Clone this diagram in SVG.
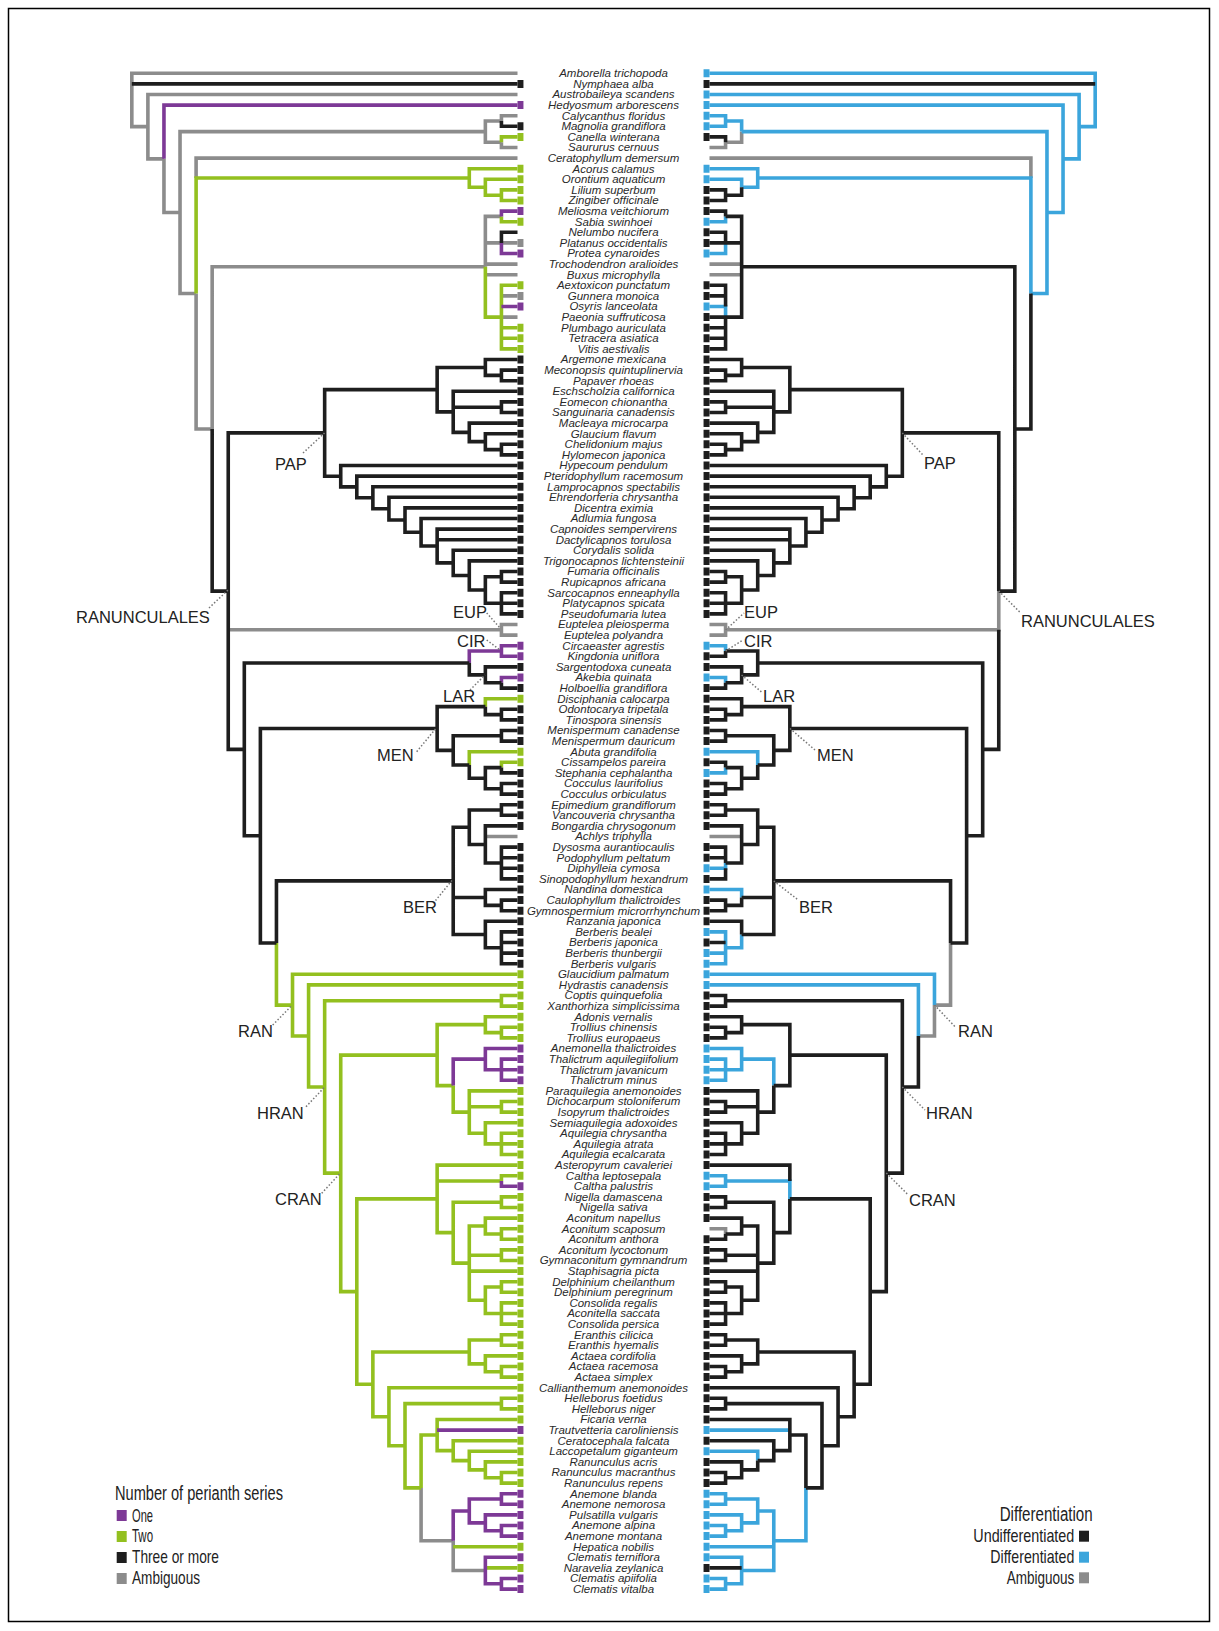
<svg xmlns="http://www.w3.org/2000/svg" width="1219" height="1631" viewBox="0 0 1219 1631">
<style>
.t path{fill:none;stroke-width:3.6;vector-effect:non-scaling-stroke;stroke-linejoin:miter;stroke-linecap:butt}
.t path.sq{stroke-width:8}
.gy{stroke:#8c8c8c}.bk{stroke:#1e1e1e}.gn{stroke:#93c01f}.pu{stroke:#7d3996}.bl{stroke:#3ba5dc}
.lab text{font-family:"Liberation Sans",Arial,sans-serif;font-style:italic;font-size:11.5px;fill:#2a2a2a;text-anchor:middle}
.cl text{font-family:"Liberation Sans",Arial,sans-serif;font-size:16.5px;fill:#222}
.ld{stroke:#777;stroke-width:1.5;stroke-dasharray:1.5 2;fill:none}
.lg{font-family:"Liberation Sans",Arial,sans-serif;fill:#222}
</style>
<rect x="0" y="0" width="1219" height="1631" fill="#fff"/>
<rect x="8.5" y="8.5" width="1201" height="1613" fill="none" stroke="#000" stroke-width="1.5"/>

<g id="connectors">
<g id="tree-left" class="t" transform="matrix(-16.07 0 0 10.6 517.5 73.3)">
<path class="gy" d="M24 2.517V0H0M24 2.517V5.035H23M23 5.035V2H0M23 5.035V8.069H22M22 8.069V13.138H21M21 13.138V5.5H2M21 13.138V20.776H20M2 5.5V4.5H1M2 5.5V6.5H1M1 4.5V4H0M1 6.5V7H0M20 9.875V8H0M20 20.776V33.551H19M19 33.551V18.25H2M2 18.25V13.5H1M2 16H1M2 18H0M2 19H0M1 16H0M1 21H0M1 23H0M18 52.5H1M1 52.5V52H0M1 52.5V53H0M2 72H0M6 133.453V138.438H4M4 138.438V141.25H2"/>
<path class="gn" d="M1 6.5V6H0M20 20.776V9.875H3M3 9.875V9H0M3 9.875V10.75H2M2 10.75V10H0M2 10.75V11.5H1M1 11.5V11H0M1 11.5V12H0M1 13.5V14H0M2 18.25V23H1M1 23V20H0M1 24H0M1 25H0M1 23V26H0M2 59.75V59H0M3 65.25V64H0M1 65.5V65H0M15 82.047V87.907H14M14 87.907V85H0M14 87.907V90.814H13M13 90.814V86H0M13 90.814V95.628H12M12 95.628V87.5H1M12 95.628V103.756H11M1 87.5V87H0M1 87.5V88H0M11 103.756V92.625H5M11 103.756V114.934H10M5 92.625V89.75H2M5 92.625V95.5H4M2 89.75V89H0M2 89.75V90.5H1M1 90.5V90H0M1 90.5V91H0M4 95.5V98H3M3 98V96H0M3 97.5H1M3 98V100H2M1 97.5V97H0M1 97.5V98H0M2 100V99H0M2 100V101H1M1 101V100H0M1 101H0M1 101V102H0M10 114.934V106.188H5M10 114.934V123.68H9M5 106.188V103H0M5 104.5H1M5 106.188V109.375H4M1 104.5V104H0M4 109.375V106.5H1M4 109.375V112.25H3M1 106.5V106H0M1 106.5V107H0M3 112.25V108.75H2M3 111.5H1M3 113H0M3 112.25V115.75H2M2 108.75V108H0M2 108.75V109.5H1M1 109.5V109H0M1 109.5V110H0M1 111.5V111H0M1 111.5V112H0M2 115.75V114.5H1M2 115.75V117H1M1 114.5V114H0M1 114.5V115H0M1 117V116H0M1 117H0M1 117V118H0M9 123.68V120.625H3M9 123.68V126.738H8M3 120.625V119.5H1M3 120.625V121.75H2M1 119.5V119H0M1 119.5V120H0M2 121.75V121H0M2 121.75V122.5H1M1 122.5V122H0M1 122.5V123H0M8 126.738V124H0M8 126.738V129.477H7M7 129.477V125.5H1M7 129.477V133.453H6M1 125.5V125H0M1 125.5V126H0M6 133.453V128.469H5M5 128.469V127H0M5 128.469V129.938H4M4 129.938V129H0M4 129.938V130.875H3M3 130.875V130H0M3 130.875V131.75H2M2 131.75V131H0M2 131.75V132.5H1M1 132.5V132H0M1 132.5V133H0M4 139H0M2 141H0"/>
<path class="pu" d="M22 8.069V3H0M1 13.5V13H0M1 16V17H0M1 22H0M3 55.625V54.5H1M1 54.5V54H0M1 54.5V55H0M1 57.5V57H0M4 95.5V93H2M2 93V92H0M2 93V94H1M1 94V93H0M1 94H0M1 94V95H0M1 104.5V105H0M5 128H0M4 138.438V135.625H3M3 135.625V134.5H1M3 135.625V136.75H2M1 134.5V134H0M1 134.5V135H0M2 136.75V136H0M2 136.75V137.5H1M1 137.5V137H0M1 137.5V138H0M2 141.25V140H0M2 141.25V142.5H1M1 142.5V142H0M1 142.5V143H0"/>
<path class="bk" d="M24 1H0M1 4.5V5H0M1 16V15H0M19 33.551V48.852H18M18 48.852V63.777H17M17 63.777V55.625H3M17 63.777V71.93H16M3 55.625V56.75H2M2 56.75V56H0M2 56.75V57.5H1M1 57.5V58H0M16 71.93V61.813H5M16 71.93V82.047H15M5 61.813V59.75H2M5 61.813V63.875H4M2 59.75V60.5H1M1 60.5V60H0M1 60.5V61H0M4 63.875V62.5H1M4 63.875V65.25H3M1 62.5V62H0M1 62.5V63H0M3 65.25V66.5H2M2 66.5V65.5H1M2 66.5V67.5H1M1 65.5V66H0M1 67.5V67H0M1 67.5V68H0M15 82.047V76.188H4M4 76.188V71.125H3M4 77.75H2M4 76.188V81.25H2M3 71.125V69.5H1M3 71.125V72.75H2M1 69.5V69H0M1 69.5V70H0M2 72.75V71H0M2 72.75V74.5H1M1 74.5V73H0M1 74H0M1 75H0M1 74.5V76H0M2 77.75V77H0M2 77.75V78.5H1M1 78.5V78H0M1 78.5V79H0M2 81.25V80H0M2 81.25V82.5H1M1 82.5V81H0M1 82H0M1 83H0M1 82.5V84H0M18 48.852V33.926H12M12 33.926V29.844H5M12 33.926V38.009H11M5 29.844V27.75H2M5 29.844V31.938H4M2 27.75V27H0M2 27.75V28.5H1M1 28.5V28H0M1 28.5V29H0M4 31.938V30H0M4 31.5H1M4 31.938V33.875H3M1 31.5V31H0M1 31.5V32H0M3 33.875V33H0M3 33.875V34.75H2M2 34.75V34H0M2 34.75V35.5H1M1 35.5V35H0M1 35.5V36H0M11 38.009V37H0M11 38.009V39.019H10M10 39.019V38H0M10 39.019V40.037H9M9 40.037V39H0M9 40.037V41.074H8M8 41.074V40H0M8 41.074V42.148H7M7 42.148V41H0M7 42.148V43.297H6M6 43.297V42H0M6 43.297V44.594H5M5 44.594V43H0M5 44H0M5 44.594V46.188H4M4 46.188V45H0M4 46.188V47.375H3M3 47.375V46H0M3 47.375V48.75H2M2 48.75V47.5H1M2 48.75V50H1M1 47.5V47H0M1 47.5V48H0M1 50V49H0M1 50H0M1 50V51H0"/>
<path class="sq bk" d="M0 1h-.37M0 5h-.37M0 27h-.37M0 28h-.37M0 29h-.37M0 30h-.37M0 31h-.37M0 32h-.37M0 33h-.37M0 34h-.37M0 35h-.37M0 36h-.37M0 37h-.37M0 38h-.37M0 39h-.37M0 40h-.37M0 41h-.37M0 42h-.37M0 43h-.37M0 44h-.37M0 45h-.37M0 46h-.37M0 47h-.37M0 48h-.37M0 49h-.37M0 50h-.37M0 51h-.37M0 56h-.37M0 58h-.37M0 60h-.37M0 61h-.37M0 62h-.37M0 63h-.37M0 66h-.37M0 67h-.37M0 68h-.37M0 69h-.37M0 70h-.37M0 71h-.37M0 73h-.37M0 74h-.37M0 75h-.37M0 76h-.37M0 77h-.37M0 78h-.37M0 79h-.37M0 80h-.37M0 81h-.37M0 82h-.37M0 83h-.37M0 84h-.37"/>
<path class="sq gn" d="M0 6h-.37M0 9h-.37M0 10h-.37M0 11h-.37M0 12h-.37M0 14h-.37M0 20h-.37M0 24h-.37M0 25h-.37M0 26h-.37M0 59h-.37M0 64h-.37M0 65h-.37M0 85h-.37M0 86h-.37M0 87h-.37M0 88h-.37M0 89h-.37M0 90h-.37M0 91h-.37M0 96h-.37M0 97h-.37M0 98h-.37M0 99h-.37M0 100h-.37M0 101h-.37M0 102h-.37M0 103h-.37M0 104h-.37M0 106h-.37M0 107h-.37M0 108h-.37M0 109h-.37M0 110h-.37M0 111h-.37M0 112h-.37M0 113h-.37M0 114h-.37M0 115h-.37M0 116h-.37M0 117h-.37M0 118h-.37M0 119h-.37M0 120h-.37M0 121h-.37M0 122h-.37M0 123h-.37M0 124h-.37M0 125h-.37M0 126h-.37M0 127h-.37M0 129h-.37M0 130h-.37M0 131h-.37M0 132h-.37M0 133h-.37M0 139h-.37M0 141h-.37"/>
<path class="sq pu" d="M0 3h-.37M0 13h-.37M0 17h-.37M0 22h-.37M0 54h-.37M0 55h-.37M0 57h-.37M0 92h-.37M0 93h-.37M0 94h-.37M0 95h-.37M0 105h-.37M0 128h-.37M0 134h-.37M0 135h-.37M0 136h-.37M0 137h-.37M0 138h-.37M0 140h-.37M0 142h-.37M0 143h-.37"/>
<path class="sq gy" d="M0 16h-.37M0 21h-.37"/>
</g>

<g id="tree-right" class="t" transform="matrix(16.07 0 0 10.6 709.5 73.3)">
<path class="gy" d="M2 5.5V6.5H1M1 6.5V7H0M20 9.875V8H0M2 18H0M2 19H0M18 48.852V52.5H1M1 52.5V52H0M1 52.5V53H0M2 72H0M15 82.047V87.907H14M14 87.907V90.814H13M1 109.5V109H0"/>
<path class="bl" d="M24 2.517V0H0M24 2.517V5.035H23M23 5.035V2H0M23 5.035V8.069H22M22 8.069V3H0M22 8.069V13.138H21M21 13.138V5.5H2M21 13.138V20.776H20M2 5.5V4.5H1M1 4.5V4H0M1 4.5V5H0M20 20.776V9.875H3M3 9.875V9H0M3 9.875V10.75H2M2 10.75V10H0M1 13.5V14H0M1 16V17H0M1 23V22H0M1 54.5V54H0M1 57.5V57H0M3 65.25V64H0M1 65.5V66H0M1 74.5V75H0M2 77.75V77H0M2 81.25V82.5H1M1 82.5V81H0M1 83H0M1 82.5V84H0M14 87.907V85H0M13 90.814V86H0M4 95.5V93H2M2 93V92H0M2 93V94H1M1 94V93H0M1 94H0M1 94V95H0M5 106.188V104.5H1M1 104.5V104H0M1 104.5V105H0M5 128H0M3 130.875V130H0M6 133.453V138.438H4M4 138.438V135.625H3M4 139H0M4 138.438V141.25H2M3 135.625V134.5H1M3 135.625V136.75H2M1 134.5V134H0M1 134.5V135H0M2 136.75V136H0M2 136.75V137.5H1M1 137.5V137H0M1 137.5V138H0M2 141.25V140H0M2 141.25V142.5H1M1 142.5V142H0M1 142.5V143H0"/>
<path class="bk" d="M24 1H0M1 6.5V6H0M2 10.75V11.5H1M1 11.5V11H0M1 11.5V12H0M20 20.776V33.551H19M19 33.551V18.25H2M19 33.551V48.852H18M2 18.25V13.5H1M2 16H1M2 18.25V23H1M1 13.5V13H0M1 16V15H0M1 16H0M1 22V20H0M1 21H0M1 23H0M1 24H0M1 25H0M1 23V26H0M18 48.852V33.926H12M12 33.926V29.844H5M12 33.926V38.009H11M5 29.844V27.75H2M5 29.844V31.938H4M2 27.75V27H0M2 27.75V28.5H1M1 28.5V28H0M1 28.5V29H0M4 31.938V30H0M4 31.5H1M4 31.938V33.875H3M1 31.5V31H0M1 31.5V32H0M3 33.875V33H0M3 33.875V34.75H2M2 34.75V34H0M2 34.75V35.5H1M1 35.5V35H0M1 35.5V36H0M11 38.009V37H0M11 38.009V39.019H10M10 39.019V38H0M10 39.019V40.037H9M9 40.037V39H0M9 40.037V41.074H8M8 41.074V40H0M8 41.074V42.148H7M7 42.148V41H0M7 42.148V43.297H6M6 43.297V42H0M6 43.297V44.594H5M5 44.594V43H0M5 44H0M5 44.594V46.188H4M4 46.188V45H0M4 46.188V47.375H3M3 47.375V46H0M3 47.375V48.75H2M2 48.75V47.5H1M2 48.75V50H1M1 47.5V47H0M1 47.5V48H0M1 50V49H0M1 50H0M1 50V51H0M18 52.5V63.777H17M17 63.777V55.625H3M17 63.777V71.93H16M3 55.625V54.5H1M3 55.625V56.75H2M1 54.5V55H0M2 56.75V56H0M2 56.75V57.5H1M1 57.5V58H0M16 71.93V61.813H5M16 71.93V82.047H15M5 61.813V59.75H2M5 61.813V63.875H4M2 59.75V59H0M2 59.75V60.5H1M1 60.5V60H0M1 60.5V61H0M4 63.875V62.5H1M4 63.875V65.25H3M1 62.5V62H0M1 62.5V63H0M3 65.25V66.5H2M2 66.5V65.5H1M2 66.5V67.5H1M1 65.5V65H0M1 67.5V67H0M1 67.5V68H0M15 82.047V76.188H4M4 76.188V71.125H3M4 77.75H2M4 76.188V81.25H2M3 71.125V69.5H1M3 71.125V72.75H2M1 69.5V69H0M1 69.5V70H0M2 72.75V71H0M2 72.75V74.5H1M1 74.5V73H0M1 74H0M1 75V76H0M2 77.75V78.5H1M1 78.5V78H0M1 78.5V79H0M2 81.25V80H0M1 82H0M13 90.814V95.628H12M12 95.628V87.5H1M12 95.628V103.756H11M1 87.5V87H0M1 87.5V88H0M11 103.756V92.625H5M11 103.756V114.934H10M5 92.625V89.75H2M5 92.625V95.5H4M2 89.75V89H0M2 89.75V90.5H1M1 90.5V90H0M1 90.5V91H0M4 95.5V98H3M3 98V96H0M3 97.5H1M3 98V100H2M1 97.5V97H0M1 97.5V98H0M2 100V99H0M2 100V101H1M1 101V100H0M1 101H0M1 101V102H0M10 114.934V106.188H5M10 114.934V123.68H9M5 104.5V103H0M5 106.188V109.375H4M4 109.375V106.5H1M4 109.375V112.25H3M1 106.5V106H0M1 106.5V107H0M3 112.25V108.75H2M3 111.5H1M3 113H0M3 112.25V115.75H2M2 108.75V108H0M2 108.75V109.5H1M1 109.5V110H0M1 111.5V111H0M1 111.5V112H0M2 115.75V114.5H1M2 115.75V117H1M1 114.5V114H0M1 114.5V115H0M1 117V116H0M1 117H0M1 117V118H0M9 123.68V120.625H3M9 123.68V126.738H8M3 120.625V119.5H1M3 120.625V121.75H2M1 119.5V119H0M1 119.5V120H0M2 121.75V121H0M2 121.75V122.5H1M1 122.5V122H0M1 122.5V123H0M8 126.738V124H0M8 126.738V129.477H7M7 129.477V125.5H1M7 129.477V133.453H6M1 125.5V125H0M1 125.5V126H0M6 133.453V128.469H5M5 128.469V127H0M5 128.469V129.938H4M4 129.938V129H0M4 129.938V130.875H3M3 130.875V131.75H2M2 131.75V131H0M2 131.75V132.5H1M1 132.5V132H0M1 132.5V133H0M2 141H0"/>
<path class="sq bl" d="M0 0h-.37M0 2h-.37M0 3h-.37M0 4h-.37M0 5h-.37M0 9h-.37M0 10h-.37M0 14h-.37M0 17h-.37M0 22h-.37M0 54h-.37M0 57h-.37M0 64h-.37M0 66h-.37M0 75h-.37M0 77h-.37M0 81h-.37M0 83h-.37M0 84h-.37M0 85h-.37M0 86h-.37M0 92h-.37M0 93h-.37M0 94h-.37M0 95h-.37M0 104h-.37M0 105h-.37M0 128h-.37M0 130h-.37M0 134h-.37M0 135h-.37M0 136h-.37M0 137h-.37M0 138h-.37M0 139h-.37M0 140h-.37M0 142h-.37M0 143h-.37"/>
<path class="sq bk" d="M0 1h-.37M0 6h-.37M0 11h-.37M0 12h-.37M0 13h-.37M0 15h-.37M0 16h-.37M0 20h-.37M0 21h-.37M0 23h-.37M0 24h-.37M0 25h-.37M0 26h-.37M0 27h-.37M0 28h-.37M0 29h-.37M0 30h-.37M0 31h-.37M0 32h-.37M0 33h-.37M0 34h-.37M0 35h-.37M0 36h-.37M0 37h-.37M0 38h-.37M0 39h-.37M0 40h-.37M0 41h-.37M0 42h-.37M0 43h-.37M0 44h-.37M0 45h-.37M0 46h-.37M0 47h-.37M0 48h-.37M0 49h-.37M0 50h-.37M0 51h-.37M0 55h-.37M0 56h-.37M0 58h-.37M0 59h-.37M0 60h-.37M0 61h-.37M0 62h-.37M0 63h-.37M0 65h-.37M0 67h-.37M0 68h-.37M0 69h-.37M0 70h-.37M0 71h-.37M0 73h-.37M0 74h-.37M0 76h-.37M0 78h-.37M0 79h-.37M0 80h-.37M0 82h-.37M0 87h-.37M0 88h-.37M0 89h-.37M0 90h-.37M0 91h-.37M0 96h-.37M0 97h-.37M0 98h-.37M0 99h-.37M0 100h-.37M0 101h-.37M0 102h-.37M0 103h-.37M0 106h-.37M0 107h-.37M0 108h-.37M0 110h-.37M0 111h-.37M0 112h-.37M0 113h-.37M0 114h-.37M0 115h-.37M0 116h-.37M0 117h-.37M0 118h-.37M0 119h-.37M0 120h-.37M0 121h-.37M0 122h-.37M0 123h-.37M0 124h-.37M0 125h-.37M0 126h-.37M0 127h-.37M0 129h-.37M0 131h-.37M0 132h-.37M0 133h-.37M0 141h-.37"/>
</g>

<g id="leaders">
<path class="ld" d="M303 453L324.5 433M209 608L228 590M486.7 613L500 628M486.7 640L500 650M470 690L485 675M416.7 751.7L436 728.3M433.3 903.3L452.3 880M272.7 1025L292.3 1005M306 1106.7L325 1086.7M321.7 1193.3L340.7 1172.7"/>
<path class="ld" d="M902.3 433L923 455M998.8 591L1020.7 613M725.6 630L744 613M725.6 651L743 640M741.6 675L762.7 693M790 728.5L815 750M773.8 881L798.3 900M934.5 1005L955 1026.7M902.3 1087L925 1110M886.3 1173L908.3 1195"/>
</g>
</g>

<g id="clade-labels" class="cl">
<text x="275" y="470">PAP</text>
<text x="76" y="623">RANUNCULALES</text>
<text x="453" y="618">EUP</text>
<text x="457" y="647">CIR</text>
<text x="443" y="702">LAR</text>
<text x="377" y="761">MEN</text>
<text x="403" y="913">BER</text>
<text x="238" y="1037">RAN</text>
<text x="257" y="1119">HRAN</text>
<text x="275" y="1205">CRAN</text>
<text x="924" y="469">PAP</text>
<text x="1021" y="627">RANUNCULALES</text>
<text x="744" y="618">EUP</text>
<text x="744" y="647">CIR</text>
<text x="763" y="702">LAR</text>
<text x="817" y="761">MEN</text>
<text x="799" y="913">BER</text>
<text x="958" y="1037">RAN</text>
<text x="926" y="1119">HRAN</text>
<text x="909" y="1206">CRAN</text>
</g>

<g id="taxa" class="lab">
<text x="613.5" y="77.1">Amborella trichopoda</text>
<text x="613.5" y="87.7">Nymphaea alba</text>
<text x="613.5" y="98.3">Austrobaileya scandens</text>
<text x="613.5" y="108.9">Hedyosmum arborescens</text>
<text x="613.5" y="119.5">Calycanthus floridus</text>
<text x="613.5" y="130.1">Magnolia grandiflora</text>
<text x="613.5" y="140.7">Canella winterana</text>
<text x="613.5" y="151.3">Saururus cernuus</text>
<text x="613.5" y="161.9">Ceratophyllum demersum</text>
<text x="613.5" y="172.5">Acorus calamus</text>
<text x="613.5" y="183.1">Orontium aquaticum</text>
<text x="613.5" y="193.7">Lilium superbum</text>
<text x="613.5" y="204.3">Zingiber officinale</text>
<text x="613.5" y="214.9">Meliosma veitchiorum</text>
<text x="613.5" y="225.5">Sabia swinhoei</text>
<text x="613.5" y="236.1">Nelumbo nucifera</text>
<text x="613.5" y="246.7">Platanus occidentalis</text>
<text x="613.5" y="257.3">Protea cynaroides</text>
<text x="613.5" y="267.9">Trochodendron aralioides</text>
<text x="613.5" y="278.5">Buxus microphylla</text>
<text x="613.5" y="289.1">Aextoxicon punctatum</text>
<text x="613.5" y="299.7">Gunnera monoica</text>
<text x="613.5" y="310.3">Osyris lanceolata</text>
<text x="613.5" y="320.9">Paeonia suffruticosa</text>
<text x="613.5" y="331.5">Plumbago auriculata</text>
<text x="613.5" y="342.1">Tetracera asiatica</text>
<text x="613.5" y="352.7">Vitis aestivalis</text>
<text x="613.5" y="363.3">Argemone mexicana</text>
<text x="613.5" y="373.9">Meconopsis quintuplinervia</text>
<text x="613.5" y="384.5">Papaver rhoeas</text>
<text x="613.5" y="395.1">Eschscholzia californica</text>
<text x="613.5" y="405.7">Eomecon chionantha</text>
<text x="613.5" y="416.3">Sanguinaria canadensis</text>
<text x="613.5" y="426.9">Macleaya microcarpa</text>
<text x="613.5" y="437.5">Glaucium flavum</text>
<text x="613.5" y="448.1">Chelidonium majus</text>
<text x="613.5" y="458.7">Hylomecon japonica</text>
<text x="613.5" y="469.3">Hypecoum pendulum</text>
<text x="613.5" y="479.9">Pteridophyllum racemosum</text>
<text x="613.5" y="490.5">Lamprocapnos spectabilis</text>
<text x="613.5" y="501.1">Ehrendorferia chrysantha</text>
<text x="613.5" y="511.7">Dicentra eximia</text>
<text x="613.5" y="522.3">Adlumia fungosa</text>
<text x="613.5" y="532.9">Capnoides sempervirens</text>
<text x="613.5" y="543.5">Dactylicapnos torulosa</text>
<text x="613.5" y="554.1">Corydalis solida</text>
<text x="613.5" y="564.7">Trigonocapnos lichtensteinii</text>
<text x="613.5" y="575.3">Fumaria officinalis</text>
<text x="613.5" y="585.9">Rupicapnos africana</text>
<text x="613.5" y="596.5">Sarcocapnos enneaphylla</text>
<text x="613.5" y="607.1">Platycapnos spicata</text>
<text x="613.5" y="617.7">Pseudofumaria lutea</text>
<text x="613.5" y="628.3">Euptelea pleiosperma</text>
<text x="613.5" y="638.9">Euptelea polyandra</text>
<text x="613.5" y="649.5">Circaeaster agrestis</text>
<text x="613.5" y="660.1">Kingdonia uniflora</text>
<text x="613.5" y="670.7">Sargentodoxa cuneata</text>
<text x="613.5" y="681.3">Akebia quinata</text>
<text x="613.5" y="691.9">Holboellia grandiflora</text>
<text x="613.5" y="702.5">Disciphania calocarpa</text>
<text x="613.5" y="713.1">Odontocarya tripetala</text>
<text x="613.5" y="723.7">Tinospora sinensis</text>
<text x="613.5" y="734.3">Menispermum canadense</text>
<text x="613.5" y="744.9">Menispermum dauricum</text>
<text x="613.5" y="755.5">Abuta grandifolia</text>
<text x="613.5" y="766.1">Cissampelos pareira</text>
<text x="613.5" y="776.7">Stephania cephalantha</text>
<text x="613.5" y="787.3">Cocculus laurifolius</text>
<text x="613.5" y="797.9">Cocculus orbiculatus</text>
<text x="613.5" y="808.5">Epimedium grandiflorum</text>
<text x="613.5" y="819.1">Vancouveria chrysantha</text>
<text x="613.5" y="829.7">Bongardia chrysogonum</text>
<text x="613.5" y="840.3">Achlys triphylla</text>
<text x="613.5" y="850.9">Dysosma aurantiocaulis</text>
<text x="613.5" y="861.5">Podophyllum peltatum</text>
<text x="613.5" y="872.1">Diphylleia cymosa</text>
<text x="613.5" y="882.7">Sinopodophyllum hexandrum</text>
<text x="613.5" y="893.3">Nandina domestica</text>
<text x="613.5" y="903.9">Caulophyllum thalictroides</text>
<text x="613.5" y="914.5">Gymnospermium microrrhynchum</text>
<text x="613.5" y="925.1">Ranzania japonica</text>
<text x="613.5" y="935.7">Berberis bealei</text>
<text x="613.5" y="946.3">Berberis japonica</text>
<text x="613.5" y="956.9">Berberis thunbergii</text>
<text x="613.5" y="967.5">Berberis vulgaris</text>
<text x="613.5" y="978.1">Glaucidium palmatum</text>
<text x="613.5" y="988.7">Hydrastis canadensis</text>
<text x="613.5" y="999.3">Coptis quinquefolia</text>
<text x="613.5" y="1009.9">Xanthorhiza simplicissima</text>
<text x="613.5" y="1020.5">Adonis vernalis</text>
<text x="613.5" y="1031.1">Trollius chinensis</text>
<text x="613.5" y="1041.7">Trollius europaeus</text>
<text x="613.5" y="1052.3">Anemonella thalictroides</text>
<text x="613.5" y="1062.9">Thalictrum aquilegiifolium</text>
<text x="613.5" y="1073.5">Thalictrum javanicum</text>
<text x="613.5" y="1084.1">Thalictrum minus</text>
<text x="613.5" y="1094.7">Paraquilegia anemonoides</text>
<text x="613.5" y="1105.3">Dichocarpum stoloniferum</text>
<text x="613.5" y="1115.9">Isopyrum thalictroides</text>
<text x="613.5" y="1126.5">Semiaquilegia adoxoides</text>
<text x="613.5" y="1137.1">Aquilegia chrysantha</text>
<text x="613.5" y="1147.7">Aquilegia atrata</text>
<text x="613.5" y="1158.3">Aquilegia ecalcarata</text>
<text x="613.5" y="1168.9">Asteropyrum cavaleriei</text>
<text x="613.5" y="1179.5">Caltha leptosepala</text>
<text x="613.5" y="1190.1">Caltha palustris</text>
<text x="613.5" y="1200.7">Nigella damascena</text>
<text x="613.5" y="1211.3">Nigella sativa</text>
<text x="613.5" y="1221.9">Aconitum napellus</text>
<text x="613.5" y="1232.5">Aconitum scaposum</text>
<text x="613.5" y="1243.1">Aconitum anthora</text>
<text x="613.5" y="1253.7">Aconitum lycoctonum</text>
<text x="613.5" y="1264.3">Gymnaconitum gymnandrum</text>
<text x="613.5" y="1274.9">Staphisagria picta</text>
<text x="613.5" y="1285.5">Delphinium cheilanthum</text>
<text x="613.5" y="1296.1">Delphinium peregrinum</text>
<text x="613.5" y="1306.7">Consolida regalis</text>
<text x="613.5" y="1317.3">Aconitella saccata</text>
<text x="613.5" y="1327.9">Consolida persica</text>
<text x="613.5" y="1338.5">Eranthis cilicica</text>
<text x="613.5" y="1349.1">Eranthis hyemalis</text>
<text x="613.5" y="1359.7">Actaea cordifolia</text>
<text x="613.5" y="1370.3">Actaea racemosa</text>
<text x="613.5" y="1380.9">Actaea simplex</text>
<text x="613.5" y="1391.5">Callianthemum anemonoides</text>
<text x="613.5" y="1402.1">Helleborus foetidus</text>
<text x="613.5" y="1412.7">Helleborus niger</text>
<text x="613.5" y="1423.3">Ficaria verna</text>
<text x="613.5" y="1433.9">Trautvetteria caroliniensis</text>
<text x="613.5" y="1444.5">Ceratocephala falcata</text>
<text x="613.5" y="1455.1">Laccopetalum giganteum</text>
<text x="613.5" y="1465.7">Ranunculus acris</text>
<text x="613.5" y="1476.3">Ranunculus macranthus</text>
<text x="613.5" y="1486.9">Ranunculus repens</text>
<text x="613.5" y="1497.5">Anemone blanda</text>
<text x="613.5" y="1508.1">Anemone nemorosa</text>
<text x="613.5" y="1518.7">Pulsatilla vulgaris</text>
<text x="613.5" y="1529.3">Anemone alpina</text>
<text x="613.5" y="1539.9">Anemone montana</text>
<text x="613.5" y="1550.5">Hepatica nobilis</text>
<text x="613.5" y="1561.1">Clematis terniflora</text>
<text x="613.5" y="1571.7">Naravelia zeylanica</text>
<text x="613.5" y="1582.3">Clematis apiifolia</text>
<text x="613.5" y="1592.9">Clematis vitalba</text>
</g>

<g id="legend-perianth" class="lg">
<text x="115" y="1500" font-size="20" textLength="168" lengthAdjust="spacingAndGlyphs">Number of perianth series</text>
<rect x="116.7" y="1510" width="10" height="11" fill="#7d3996"/>
<rect x="116.7" y="1531" width="10" height="11" fill="#93c01f"/>
<rect x="116.7" y="1552" width="10" height="11" fill="#1e1e1e"/>
<rect x="116.7" y="1573" width="10" height="11" fill="#8c8c8c"/>
<text x="132" y="1521.7" font-size="18.5" textLength="21" lengthAdjust="spacingAndGlyphs">One</text>
<text x="132" y="1542.3" font-size="18.5" textLength="21" lengthAdjust="spacingAndGlyphs">Two</text>
<text x="132" y="1563.3" font-size="18.5" textLength="87" lengthAdjust="spacingAndGlyphs">Three or more</text>
<text x="132" y="1584" font-size="18.5" textLength="68" lengthAdjust="spacingAndGlyphs">Ambiguous</text>
</g>

<g id="legend-differentiation" class="lg">
<text x="1092.7" y="1520.7" font-size="20" text-anchor="end" textLength="93" lengthAdjust="spacingAndGlyphs">Differentiation</text>
<text x="1074.3" y="1542.3" font-size="18.5" text-anchor="end" textLength="101" lengthAdjust="spacingAndGlyphs">Undifferentiated</text>
<text x="1074.3" y="1563.3" font-size="18.5" text-anchor="end" textLength="84" lengthAdjust="spacingAndGlyphs">Differentiated</text>
<text x="1074.3" y="1584" font-size="18.5" text-anchor="end" textLength="67.6" lengthAdjust="spacingAndGlyphs">Ambiguous</text>
<rect x="1079" y="1530.7" width="10" height="11" fill="#1e1e1e"/>
<rect x="1079" y="1551.7" width="10" height="11" fill="#3ba5dc"/>
<rect x="1079" y="1572.3" width="10" height="11" fill="#8c8c8c"/>
</g>
</svg>
